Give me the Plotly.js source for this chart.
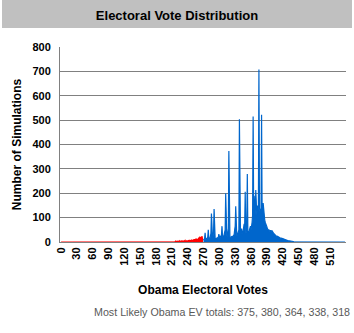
<!DOCTYPE html>
<html>
<head>
<meta charset="utf-8">
<script src="https://cdn.plot.ly/plotly-3.0.1.min.js"></script>
<style>html,body{margin:0;padding:0;background:#fff;}#chart{width:354px;height:333px;}</style>
</head>
<body>
<div id="chart"></div>
<script>
// Electoral votes (categories) for each series
const redStartEV = 0;    // red series covers EV 0..269
const blueStartEV = 270; // blue series covers EV 270..538

// Number of simulations, EV 0..269 (Obama loses)
const redSims = [
  0,0,0,0,0,0,0,0,0,0, 0,0,0,0,0,0,0,0,0,0, 0,0,0,0,0,0,0,0,0,0,
  0,0,0,0,0,0,0,0,0,0, 0,0,0,0,0,0,0,0,0,0, 0,0,0,0,0,0,0,0,0,0,
  0,0,0,0,0,0,0,0,0,0, 0,0,0,0,0,0,0,0,0,0, 0,0,0,0,0,0,0,0,0,0,
  0,0,0,0,0,0,0,0,0,0, 0,0,0,0,0,0,0,0,0,0, 0,0,0,0,0,0,0,0,0,0,
  0,0,0,0,0,0,0,0,0,0, 0,0,0,0,0,0,0,0,0,0, 0,0,0,0,0,0,0,0,0,0,
  0,0,0,0,0,0,0,0,0,0, 0,0,0,0,0,0,0,0,0,0, 0,0,0,0,0,0,0,0,0,0,
  0,0,0,0,0,0,0,0,0,0, 0,0,0,1,0,0,0,1,0,0,
  0,1,2,0,0,1,0,3,0,0, 1,3,0,0,2,0,1,4,0,1, 4,0,0,3,1,5,0,0,4,1,
  0,6,1,0,5,7,0,2,6,1, 0,8,2,9,1,7,0,10,3,8, 2,11,4,12,3,9,14,5,13,6,
  10,18,7,22,9,20,12,24,14,16
];

// Number of simulations, EV 270..538 (Obama wins)
const blueSims = [
  12,8,14,38,10,16,12,18,20,50,
  15,18,12,24,35,117,20,16,25,40,
  135,18,14,12,15,13,17,15,19,32,
  22,25,18,26,30,65,22,26,20,36,
  30,50,200,36,26,24,40,55,373,34,
  22,20,18,22,20,25,22,27,30,50,
  65,147,30,28,27,36,32,50,504,40,
  36,32,55,40,34,45,55,75,65,206,
  40,36,80,279,45,40,36,50,55,65,
  50,62,80,110,515,120,190,150,110,213,
  130,110,150,125,150,708,140,120,110,140,
  522,130,110,160,124,105,90,80,70,65,
  63,55,50,45,49,45,42,48,44,46,
  46,40,38,35,33,30,28,29,25,22,
  24,22,20,18,17,16,15,14,16,15,
  16,14,12,10,9,8,7,6,6,5,
  5,4,4,5,5,4,3,3,2,2,
  2,1,1,1,1,1,0,0,0,1,
  2,2,1,2,2,1,2,2,1,1,
  2,1,1,0,0,0,0,0,0,0,
  0,0,0,0,0,0,0,0,0,0, 0,0,0,0,0,0,0,0,0,0, 0,0,0,0,0,0,0,0,0,0,
  0,0,0,0,0,0,0,0,0,0, 0,0,0,0,0,0,0,0,0,0, 0,0,0,0,0,0,0,0,0,0,
  0,0,0,0,0,0,0,0,0
];

const xTickVals = [0,30,60,90,120,150,180,210,240,270,300,330,360,390,420,450,480,510];
const yTickVals = [0,100,200,300,400,500,600,700,800];
const titleText = "Electoral Vote Distribution";
const xTitle = "Obama Electoral Votes";
const yTitle = "Number of Simulations";
const footerText = "Most Likely Obama EV totals: 375, 380, 364, 338, 318";

const redEV = redSims.map((_, i) => redStartEV + i);
const blueEV = blueSims.map((_, i) => blueStartEV + i);

const F = "Arial, 'Liberation Sans', sans-serif";

const traces = [
  {x: redEV, y: redSims, type: 'scatter', mode: 'lines', fill: 'tozeroy',
   line: {color: '#ff0000', width: 1.2}, fillcolor: '#ff0000', hoverinfo: 'x+y'},
  {x: blueEV, y: blueSims, type: 'scatter', mode: 'lines', fill: 'tozeroy',
   line: {color: '#0066cc', width: 1.2}, fillcolor: '#0066cc', hoverinfo: 'x+y'}
];

const layout = {
  width: 354, height: 333,
  margin: {l: 60, r: 8, t: 47, b: 91},
  paper_bgcolor: '#ffffff', plot_bgcolor: '#ffffff',
  showlegend: false,
  font: {family: F, size: 11, color: '#000'},
  title: {text: '<b>' + titleText + '</b>', font: {family: F, size: 13, color: '#000'},
          x: 0.5, xanchor: 'center', y: 0.955, yanchor: 'middle', xref: 'container', yref: 'container'},
  xaxis: {
    range: [-2, 540], tickmode: 'array', tickvals: xTickVals,
    ticktext: xTickVals.map(v => '<b>' + v + '</b>'),
    tickangle: -90, tickfont: {family: F, size: 11, color: '#000'},
    showgrid: false, zeroline: false, showline: true, linecolor: '#808080', linewidth: 1,
    ticks: '', automargin: false,
    title: {text: '<b>' + xTitle + '</b>', font: {family: F, size: 12, color: '#000'}, standoff: 20}
  },
  yaxis: {
    range: [0, 800], tickmode: 'array', tickvals: yTickVals,
    ticktext: yTickVals.map(v => '<b>' + v + '</b>'),
    tickfont: {family: F, size: 11, color: '#000'},
    showgrid: true, gridcolor: '#808080', gridwidth: 1, zeroline: false,
    showline: true, linecolor: '#808080', linewidth: 1, ticks: '', ticklabelstandoff: 6,
    automargin: false,
    title: {text: '<b>' + yTitle + '</b>', font: {family: F, size: 12, color: '#000'}, standoff: 8}
  },
  shapes: [
    {type: 'rect', xref: 'paper', yref: 'paper', x0: -0.2028, x1: 1.021, y0: 1.097, y1: 1.245,
     fillcolor: '#c0c0c0', line: {width: 0}, layer: 'below'}
  ],
  annotations: [
    {text: footerText, xref: 'paper', yref: 'paper', x: 1.021, y: -0.359,
     xanchor: 'right', yanchor: 'middle', showarrow: false,
     font: {family: F, size: 10.7, color: '#595959'}}
  ]
};

Plotly.newPlot('chart', traces, layout, {displayModeBar: false, staticPlot: true});
</script>
</body>
</html>
